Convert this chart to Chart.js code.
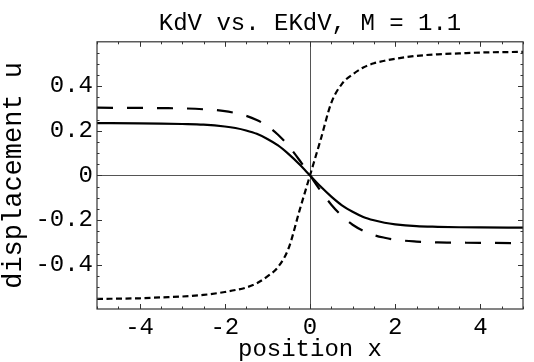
<!DOCTYPE html>
<html>
<head>
<meta charset="utf-8">
<title>KdV vs. EKdV</title>
<script src="https://cdn.jsdelivr.net/npm/chart.js@4.4.1/dist/chart.umd.min.js"></script>
<style>
  html, body { margin: 0; padding: 0; background: #fff; }
  #box { width: 534px; height: 362px; }
</style>
</head>
<body>
<div id="box"><canvas id="myChart"></canvas></div>
<script>
'use strict';
// values
const positions = [-5, -4, -3.5, -3, -2.5, -2, -1.75, -1.5, -1.25, -1, -0.75, -0.5, -0.25, 0,
  0.25, 0.5, 0.75, 1, 1.25, 1.5, 1.75, 2, 2.5, 3, 3.5, 4, 5];
const kdv = [0.234, 0.233, 0.232, 0.230, 0.227, 0.219, 0.212, 0.201, 0.186, 0.163, 0.134, 0.095, 0.050, 0,
  -0.050, -0.095, -0.134, -0.163, -0.186, -0.201, -0.212, -0.219, -0.227, -0.230, -0.232, -0.233, -0.234];
const ekdvLong = [0.303, 0.302, 0.301, 0.300, 0.296, 0.288, 0.279, 0.267, 0.248, 0.221, 0.182, 0.131, 0.069, 0,
  -0.069, -0.131, -0.182, -0.221, -0.248, -0.267, -0.279, -0.288, -0.296, -0.300, -0.301, -0.302, -0.303];
const ekdvShort = [-0.553, -0.550, -0.546, -0.542, -0.535, -0.522, -0.513, -0.502, -0.483, -0.452, -0.41, -0.325, -0.16, 0,
  0.16, 0.325, 0.41, 0.452, 0.483, 0.502, 0.513, 0.522, 0.535, 0.542, 0.546, 0.550, 0.553];

const xTicks = [-4, -2, 0, 2, 4];
const xTickLabels = ['-4', '-2', '0', '2', '4'];
const yTicks = [-0.4, -0.2, 0, 0.2, 0.4];
const yTickLabels = ['-0.4', '-0.2', '0', '0.2', '0.4'];

const titleText = 'KdV vs. EKdV, M = 1.1';
const xTitle = 'position x';
const yTitle = 'displacement u';

function toPoints(values) {
  let pts = [];
  for (let i = 0; i < positions.length; i++) {
    pts.push({x: positions[i], y: values[i]});
  }
  return pts;
}

Chart.defaults.font.family = "'Liberation Mono', 'Courier New', monospace";
Chart.defaults.font.size = 24;
Chart.defaults.color = '#000';

// title centred over the plot frame, like the original
const centerTitle = {
  id: 'centerTitle',
  afterLayout(chart) {
    if (chart.titleBlock) {
      chart.titleBlock.left = chart.chartArea.left;
      chart.titleBlock.right = chart.chartArea.right;
    }
  }
};

// frame with ticks pointing inward on all four sides
const frameTicks = {
  id: 'frameTicks',
  afterDraw(chart) {
    const ctx = chart.ctx;
    const a = chart.chartArea;
    const xs = chart.scales.x;
    const ys = chart.scales.y;
    ctx.save();
    ctx.strokeStyle = '#333';
    ctx.lineWidth = 1.2;
    ctx.strokeRect(a.left, a.top, a.right - a.left, a.bottom - a.top);
    ctx.lineWidth = 1;
    ctx.beginPath();
    for (let i = -10; i <= 10; i++) {
      const px = Math.round(xs.getPixelForValue(i * 0.5)) + 0.5;
      const len = (i % 4 === 0) ? 5 : 2.5;
      ctx.moveTo(px, a.bottom);
      ctx.lineTo(px, a.bottom - len);
      ctx.moveTo(px, a.top);
      ctx.lineTo(px, a.top + len);
    }
    for (let i = -12; i <= 12; i++) {
      const py = Math.round(ys.getPixelForValue(i * 0.05)) + 0.5;
      if (py < a.top + 1 || py > a.bottom - 1) continue;
      const len = (i % 4 === 0) ? 5 : 2.5;
      ctx.moveTo(a.left, py);
      ctx.lineTo(a.left + len, py);
      ctx.moveTo(a.right, py);
      ctx.lineTo(a.right - len, py);
    }
    ctx.stroke();
    ctx.restore();
  }
};

function zeroLine(c) {
  return c.tick && c.tick.value === 0 ? '#555' : 'rgba(0,0,0,0)';
}

let ctx = document.getElementById('myChart').getContext('2d');
let chart = new Chart(ctx, {
  type: 'line',
  data: {
    datasets: [{
      label: 'KdV',
      data: toPoints(kdv),
      borderColor: '#000',
      borderWidth: 2.2
    },
    {
      label: 'EKdV',
      data: toPoints(ekdvLong),
      borderColor: '#000',
      borderWidth: 2.2,
      borderDash: [16, 14]
    },
    {
      label: 'EKdV 2',
      data: toPoints(ekdvShort),
      borderColor: '#000',
      borderWidth: 2.2,
      borderDash: [6, 3.5]
    }]
  },
  options: {
    responsive: true,
    maintainAspectRatio: false,
    animation: false,
    devicePixelRatio: 1,
    layout: {padding: {left: 0, right: 11, top: 0, bottom: 0}},
    elements: {
      point: {radius: 0},
      line: {cubicInterpolationMode: 'monotone', fill: false}
    },
    plugins: {
      legend: {display: false},
      tooltip: {enabled: false},
      title: {
        display: true,
        text: titleText,
        font: {size: 24, weight: 'normal'},
        color: '#000',
        padding: {top: 9, bottom: 4}
      }
    },
    scales: {
      x: {
        type: 'linear',
        min: -5,
        max: 5,
        afterBuildTicks: (s) => { s.ticks = xTicks.map(v => ({value: v})); },
        afterFit: (s) => { s.height = 53; },
        ticks: {
          padding: 4,
          maxRotation: 0,
          callback: (v) => xTickLabels[xTicks.indexOf(v)]
        },
        grid: {drawTicks: false, color: zeroLine, lineWidth: 1},
        border: {display: false},
        title: {
          display: true,
          text: xTitle,
          font: {size: 24, lineHeight: 1},
          padding: {top: 0, bottom: 0}
        }
      },
      y: {
        min: -0.598,
        max: 0.598,
        afterBuildTicks: (s) => { s.ticks = yTicks.map(v => ({value: v})); },
        afterFit: (s) => { s.width = 97; },
        ticks: {
          padding: 4,
          callback: (v) => yTickLabels[yTicks.indexOf(v)]
        },
        grid: {drawTicks: false, color: zeroLine, lineWidth: 1},
        border: {display: false},
        title: {
          display: true,
          text: yTitle,
          font: {size: 27, lineHeight: 1},
          padding: {top: 0, bottom: 0}
        }
      }
    }
  },
  plugins: [centerTitle, frameTicks]
});
</script>
</body>
</html>
